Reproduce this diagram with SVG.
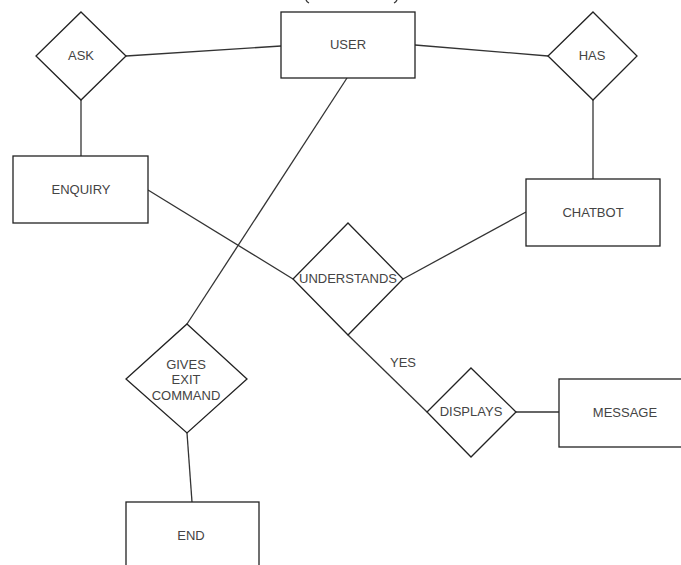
<svg xmlns="http://www.w3.org/2000/svg" width="681" height="565" viewBox="0 0 681 565">
<style>
.s{fill:#fff;stroke:#222;stroke-width:1.3}
.l{fill:none;stroke:#333;stroke-width:1.3}
text{font-family:"Liberation Sans",Arial,sans-serif;font-size:13px;fill:#444;text-anchor:middle;dominant-baseline:central}
</style>
<rect width="681" height="565" fill="#fff"/>
<path class="l" d="M306,0 Q307,2 309,3 M397,0 Q396,2 394,3"/>
<g id="connectors">
<line class="l" x1="126" y1="56" x2="281" y2="46"/>
<line class="l" x1="415" y1="45" x2="548" y2="56"/>
<line class="l" x1="81" y1="100" x2="81" y2="156"/>
<line class="l" x1="593" y1="100" x2="593" y2="179"/>
<line class="l" x1="148" y1="190" x2="293" y2="279"/>
<line class="l" x1="526" y1="212" x2="403" y2="279"/>
<line class="l" x1="347" y1="78" x2="187" y2="324"/>
<line class="l" x1="187" y1="433" x2="192" y2="502"/>
<line class="l" x1="348" y1="335" x2="427" y2="412"/>
<line class="l" x1="516" y1="412" x2="559" y2="412"/>
<text x="403" y="362">YES</text>
</g>
<g id="user"><rect class="s" x="281" y="12" width="134" height="66"/><text x="348" y="44">USER</text></g>
<g id="ask"><polygon class="s" points="81,12 126,56 81,100 36,56"/><text x="81" y="55">ASK</text></g>
<g id="has"><polygon class="s" points="593,12 637,56 593,100 548,56"/><text x="592" y="55">HAS</text></g>
<g id="enquiry"><rect class="s" x="13" y="156" width="135" height="67"/><text x="81" y="189">ENQUIRY</text></g>
<g id="chatbot"><rect class="s" x="526" y="179" width="134" height="67"/><text x="593" y="212">CHATBOT</text></g>
<g id="understands"><polygon class="s" points="348,223 403,279 348,335 293,279"/><text x="348" y="278">UNDERSTANDS</text></g>
<g id="gives"><polygon class="s" points="187,324 247,379 187,433 126,379"/><text x="186" y="364">GIVES</text><text x="186" y="379">EXIT</text><text x="186" y="395">COMMAND</text></g>
<g id="displays"><polygon class="s" points="471,368 516,412 471,457 427,412"/><text x="471" y="411">DISPLAYS</text></g>
<g id="message"><rect class="s" x="559" y="379" width="130" height="68"/><text x="625" y="412">MESSAGE</text></g>
<g id="end"><rect class="s" x="126" y="502" width="133" height="80"/><text x="191" y="535">END</text></g>
</svg>
